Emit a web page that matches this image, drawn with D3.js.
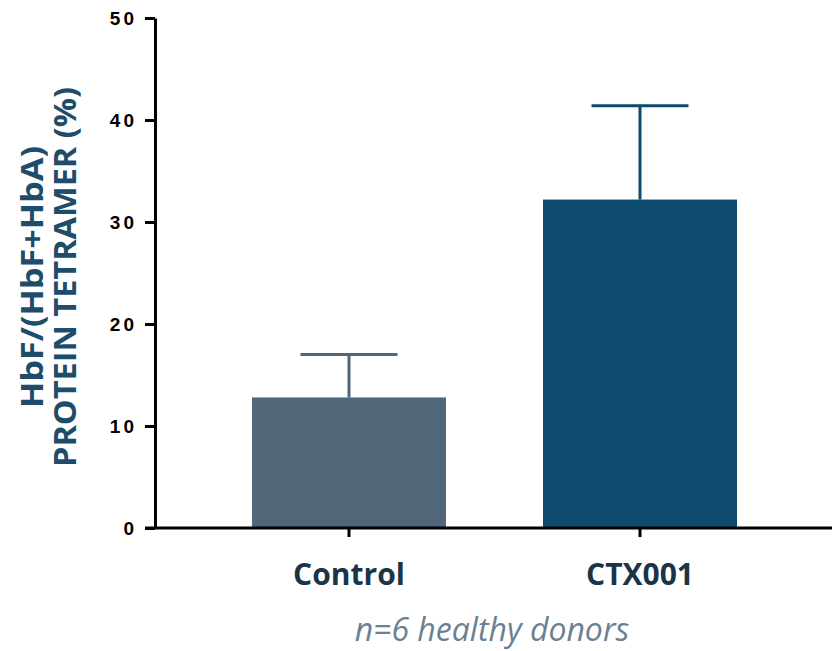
<!DOCTYPE html>
<html>
<head>
<meta charset="utf-8">
<script src="https://cdn.jsdelivr.net/npm/d3@7"></script>
<style>
  body { margin: 0; background: #fff; }
</style>
</head>
<body>
<div id="chart"></div>
<script>
// chart values
var groups = ["Control", "CTX001"];
var means = [12.8, 32.2];
var errs = [4.2, 9.2];
var barColors = ["#50677a", "#0c4a6e"];
var yTicks = [0, 10, 20, 30, 40, 50];
var yTitle = ["HbF/(HbF+HbA)", "PROTEIN TETRAMER (%)"];
var note = "n=6 healthy donors";

var width = 832, height = 651;
var margin = {top: 18, right: 0, bottom: 123, left: 155};

var svg = d3.select("#chart").append("svg")
    .attr("width", width).attr("height", height);

var x = d3.scaleBand()
    .domain(groups)
    .range([margin.left, 834])
    .paddingInner(1 / 3)
    .paddingOuter(1 / 3);
var y = d3.scaleLinear().domain([0, 50]).range([height - margin.bottom, margin.top]);

// bars
svg.append("g").selectAll("rect")
    .data(groups)
    .join("rect")
    .attr("x", function(d) { return x(d); })
    .attr("width", x.bandwidth())
    .attr("y", function(d, i) { return y(means[i]); })
    .attr("height", function(d, i) { return y(0) - y(means[i]); })
    .attr("fill", function(d, i) { return barColors[i]; });

// error bars (upper only)
var eb = svg.append("g").selectAll("g")
    .data(groups)
    .join("g")
    .attr("stroke", function(d, i) { return barColors[i]; })
    .attr("stroke-width", 3);
eb.append("line")
    .attr("x1", function(d) { return x(d) + x.bandwidth() / 2; })
    .attr("x2", function(d) { return x(d) + x.bandwidth() / 2; })
    .attr("y1", function(d, i) { return y(means[i]); })
    .attr("y2", function(d, i) { return y(means[i] + errs[i]); });
eb.append("line")
    .attr("x1", function(d) { return x(d) + x.bandwidth() / 4; })
    .attr("x2", function(d) { return x(d) + 3 * x.bandwidth() / 4; })
    .attr("y1", function(d, i) { return y(means[i] + errs[i]); })
    .attr("y2", function(d, i) { return y(means[i] + errs[i]); });

// y axis
var ya = svg.append("g")
    .attr("transform", "translate(" + margin.left + ",0)")
    .call(d3.axisLeft(y).tickValues(yTicks).tickSize(10).tickPadding(8).tickSizeOuter(0));
ya.select(".domain").attr("stroke", "#000").attr("stroke-width", 3);
ya.selectAll(".tick line").attr("stroke", "#000").attr("stroke-width", 3);
ya.selectAll(".tick text")
    .attr("fill", "#000")
    .style("font-family", "Liberation Sans, Arial, sans-serif")
    .style("font-weight", "bold")
    .style("font-size", "19px")
    .style("letter-spacing", "3px");

// x axis
var xa = svg.append("g")
    .attr("transform", "translate(0," + y(0) + ")");
xa.append("line")
    .attr("x1", margin.left - 10).attr("x2", width)
    .attr("stroke", "#000").attr("stroke-width", 3);
xa.selectAll("line.tk")
    .data(groups)
    .join("line")
    .attr("class", "tk")
    .attr("x1", function(d) { return x(d) + x.bandwidth() / 2; })
    .attr("x2", function(d) { return x(d) + x.bandwidth() / 2; })
    .attr("y1", 0).attr("y2", 9)
    .attr("stroke", "#000").attr("stroke-width", 3);
xa.selectAll("text")
    .data(groups)
    .join("text")
    .attr("x", function(d) { return x(d) + x.bandwidth() / 2; })
    .attr("y", 57)
    .attr("text-anchor", "middle")
    .attr("fill", "#1b3548")
    .style("font-family", "Open Sans, sans-serif")
    .style("font-weight", "bold")
    .style("font-size", "30px")
    .text(function(d) { return d; });

// note
svg.append("text")
    .attr("x", 492).attr("y", 641)
    .attr("text-anchor", "middle")
    .attr("fill", "#6b8193")
    .style("font-family", "Open Sans, sans-serif")
    .style("font-style", "italic")
    .style("font-size", "32px")
    .text(note);

// y title, two centred lines
var titleLen = [262, 380];
var yt = svg.append("text")
    .attr("transform", "translate(43,277) rotate(-90)")
    .attr("text-anchor", "middle")
    .attr("fill", "#1d4d6a")
    .style("font-family", "Open Sans, sans-serif")
    .style("font-weight", "bold")
    .style("font-size", "31px");
yt.selectAll("tspan")
    .data(yTitle)
    .join("tspan")
    .attr("x", 0)
    .attr("dy", function(d, i) { return i ? 33 : 0; })
    .attr("textLength", function(d, i) { return titleLen[i]; })
    .attr("lengthAdjust", "spacingAndGlyphs")
    .text(function(d) { return d; });
</script>
</body>
</html>
